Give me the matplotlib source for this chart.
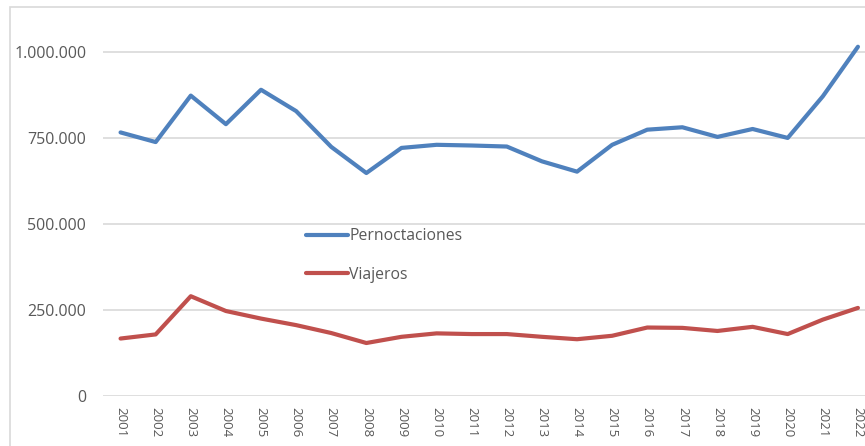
import matplotlib.pyplot as plt
from matplotlib.patches import Rectangle
from matplotlib.ticker import FuncFormatter

years = [str(y) for y in range(2001, 2023)]
pernoctaciones = [766000, 738000, 873000, 790000, 890000, 828000, 724000, 648000,
                  721000, 730000, 728000, 725000, 682000, 652000, 730000, 774000,
                  781000, 753000, 776000, 750000, 871000, 1015000]
viajeros = [167000, 179000, 290000, 247000, 225000, 206000, 183000, 154000,
            172000, 182000, 180000, 180000, 172000, 165000, 175000, 199000,
            198000, 189000, 201000, 180000, 222000, 256000]

GREY = '#595959'
GRID = '#d9d9d9'
BLUE = '#4f81bd'
RED = '#c0504d'

plt.rcParams['font.family'] = ['Open Sans', 'DejaVu Sans']

fig = plt.figure(figsize=(8.65, 4.46), dpi=100)
W, H = 865, 446

# chart border, runs off the right and bottom edge
fig.patches.append(Rectangle((10 / W, -0.05), 1.1, 1 - 7 / H + 0.05,
                             transform=fig.transFigure, fill=False,
                             edgecolor=GRID, lw=1.2))

left, right = 103 / W, 875.5 / W
bottom, top = 1 - 396 / H, 1 - 17.5 / H
ax = fig.add_axes([left, bottom, right - left, top - bottom])

x = list(range(len(years)))
ax.plot(x, pernoctaciones, color=BLUE, lw=3, solid_capstyle='round',
        solid_joinstyle='round', label='Pernoctaciones')
ax.plot(x, viajeros, color=RED, lw=3, solid_capstyle='round',
        solid_joinstyle='round', label='Viajeros')

ax.set_xlim(-0.5, len(years) - 0.5)
ax.set_ylim(0, 1100000)
ax.set_yticks([0, 250000, 500000, 750000, 1000000])
ax.yaxis.set_major_formatter(FuncFormatter(lambda v, p: f'{int(v):,}'.replace(',', '.')))
ax.set_xticks(x)
ax.set_xticklabels(years, rotation=270, ha='center', va='top')

ax.grid(axis='y', color=GRID, lw=1.2)
ax.set_axisbelow(True)
for s in ax.spines.values():
    s.set_visible(False)
ax.tick_params(axis='both', length=0, colors=GREY)
ax.tick_params(axis='y', labelsize=11.5, pad=12)
ax.tick_params(axis='x', labelsize=9.5, pad=8)

leg = ax.legend(loc='upper left', bbox_to_anchor=(306 / W, 1 - 228 / H),
                bbox_transform=fig.transFigure, frameon=False, fontsize=11.3,
                handlelength=2.65, handletextpad=0.1, labelspacing=1.45,
                borderpad=0, borderaxespad=0)
for t in leg.get_texts():
    t.set_color(GREY)

fig.savefig('out.png', dpi=100)
